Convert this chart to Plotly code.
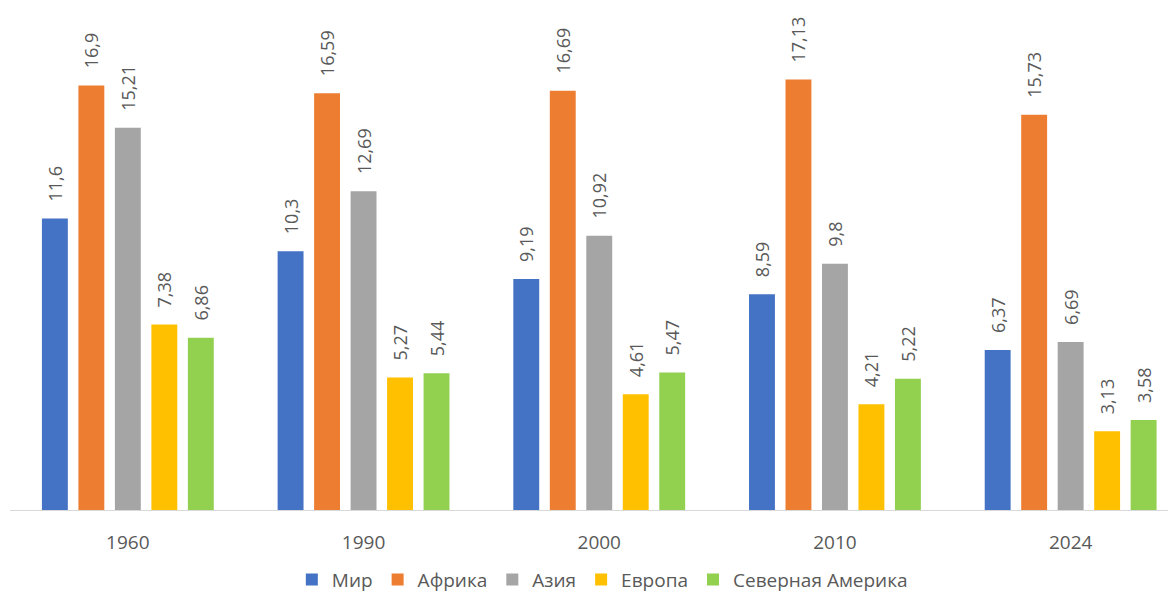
import plotly.graph_objects as go

years = ["1960", "1990", "2000", "2010", "2024"]
series_names = ["Мир", "Африка", "Азия", "Европа", "Северная Америка"]
mir = [11.6, 10.3, 9.19, 8.59, 6.37]
afrika = [16.9, 16.59, 16.69, 17.13, 15.73]
aziya = [15.21, 12.69, 10.92, 9.8, 6.69]
evropa = [7.38, 5.27, 4.61, 4.21, 3.13]
sev_amerika = [6.86, 5.44, 5.47, 5.22, 3.58]
colors = ["#4472C4", "#ED7D31", "#A5A5A5", "#FFC000", "#92D050"]

fig = go.Figure()
for name, vals, col in zip(series_names, [mir, afrika, aziya, evropa, sev_amerika], colors):
    fig.add_trace(go.Bar(
        x=years, y=vals, name=name,
        marker=dict(color=col, line=dict(width=0)),
        text=["\u00a0\u00a0\u00a0" + f"{v:g}".replace(".", ",") for v in vals],
        textposition="outside", textangle=-90, constraintext="none", cliponaxis=False,
        textfont=dict(family="Open Sans", size=18, color="#595959"),
    ))

fig.update_layout(
    width=1168, height=588,
    margin=dict(l=2, r=0, t=2, b=86, autoexpand=False),
    paper_bgcolor="white", plot_bgcolor="white",
    barmode="group", bargap=0.226, bargroupgap=0.29,
    font=dict(family="Open Sans", color="#595959", size=18),
    xaxis=dict(type="category", range=[-0.5, 4.447], showline=True, linecolor="#D9D9D9",
               linewidth=1, ticks="", tickfont=dict(size=19, color="#595959"), ticklabelstandoff=15),
    yaxis=dict(range=[0, 19.9], visible=False),
    legend=dict(orientation="h", x=0.508, xanchor="center", yref="container", y=0.028, yanchor="middle",
                font=dict(size=19, color="#595959"), itemwidth=30, traceorder="normal"),
    showlegend=True,
)
fig.write_html("out.html")
